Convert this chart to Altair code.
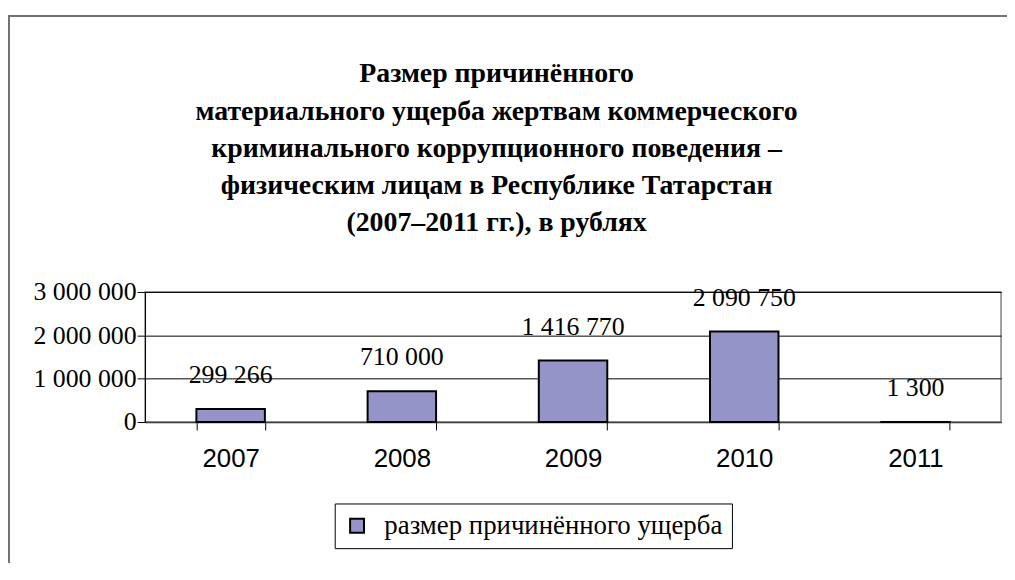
import altair as alt
import pandas as pd

years = ["2007", "2008", "2009", "2010", "2011"]
values = [299266, 710000, 1416770, 2090750, 1300]
value_labels = ["299 266", "710 000", "1 416 770", "2 090 750", "1 300"]
series_name = "размер причинённого ущерба"
y_ticks = [0, 1000000, 2000000, 3000000]
NB = "\u00a0"
title_lines = [
    NB * 10 + "Размер причинённого",
    "материального ущерба жертвам коммерческого",
    "криминального коррупционного поведения –",
    "физическим лицам в Республике Татарстан",
    NB * 9 + "(2007–2011 гг.), в рублях",
]

df = pd.DataFrame({"year": years, "value": values, "label": value_labels,
                   "series": [series_name] * len(years)})
one_df = pd.DataFrame({"k": [0]})

SERIF = "Liberation Serif"
SANS = "Liberation Sans"
BAR = "#9494C8"

xenc = alt.X("year:N", title=None, sort=years,
             scale=alt.Scale(paddingInner=0.6, paddingOuter=0.3),
             axis=alt.Axis(labelAngle=0, labelFont=SANS, labelFontSize=26,
                           labelColor="black", labelPadding=16,
                           tickBand="extent", tickSize=8, tickColor="black",
                           domainColor="#404040", domainWidth=1.5))

yenc = alt.Y("value:Q", title=None,
             scale=alt.Scale(domain=[0, 3000000], nice=False),
             axis=alt.Axis(values=y_ticks, labelFont=SERIF, labelFontSize=26,
                           labelColor="black", labelPadding=1,
                           labelExpr="replace(format(datum.value, ','), regexp(',', 'g'), ' ')",
                           tickSize=8, tickColor="black", domainColor="black",
                           grid=True, gridColor="black", gridWidth=1))

bars = alt.Chart(df).mark_bar(stroke="black", strokeWidth=2).encode(
    x=xenc,
    y=yenc,
    color=alt.Color("series:N", title=None,
                    scale=alt.Scale(range=[BAR]),
                    legend=alt.Legend(orient="none", legendX=191, legendY=213,
                                      labelFont=SERIF, labelFontSize=27,
                                      labelColor="black", symbolType="square",
                                      symbolSize=196, symbolStrokeColor="black",
                                      symbolStrokeWidth=2, strokeColor="black",
                                      labelExpr="datum.label + '\u00a0\u00a0\u00a0'",
                                      labelOffset=14, padding=9, labelLimit=600)),
)

labels = alt.Chart(df).mark_text(font=SERIF, fontSize=26, color="black",
                                 baseline="alphabetic", dy=-26).encode(
    x=alt.X("year:N", sort=years),
    y=alt.Y("value:Q"),
    text="label:N",
)

frame = alt.Chart(one_df).mark_rect(fill=None, stroke="#737373", strokeWidth=2).encode(
    x=alt.value(-137), x2=alt.value(870), y=alt.value(-278), y2=alt.value(300),
)

title = alt.Chart(one_df).mark_text(font=SERIF, fontSize=28, fontWeight="bold",
                                    color="black", align="center",
                                    baseline="alphabetic", lineHeight=37.5).encode(
    x=alt.value(354), y=alt.value(-211), text=alt.value(title_lines),
)

chart = alt.layer(frame, title, bars, labels).properties(
    width=862, height=131,
    autosize=alt.AutoSizeParams(type="none"),
    padding={"left": 138, "top": 284, "right": 6, "bottom": 140},
).configure_view(stroke="#808080", strokeWidth=1.5)

chart.save("out.html", embed_options={"renderer": "svg", "actions": False})
